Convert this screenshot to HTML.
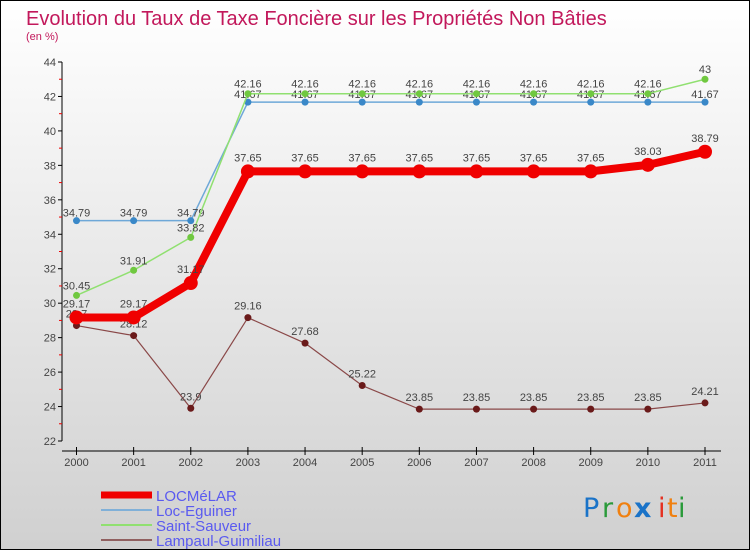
<!DOCTYPE html>
<html><head><meta charset="utf-8"><style>
html,body{margin:0;padding:0;}
body{width:750px;height:550px;overflow:hidden;font-family:"Liberation Sans",sans-serif;}
#wrap{position:relative;width:748px;height:548px;border:1px solid #000;background:linear-gradient(#fff,#d0d0d0);}
svg{position:absolute;left:0;top:0;}
</style></head><body>
<div id="wrap">
<svg id="chart" width="748" height="548">
<text x="25" y="24" font-size="20" fill="#c2185b">Evolution du Taux de Taxe Foncière sur les Propriétés Non Bâties</text>
<text x="25" y="39" font-size="11" fill="#c2185b">(en %)</text>
<g id="axes"></g><g id="series"></g><g id="legend"></g>
<g font-size="27" font-family="DejaVu Sans, sans-serif">
<text x="582" y="516" fill="#1a73c8">P</text><text x="601" y="516" fill="#2a9a3a">r</text><text x="615" y="516" fill="#f08010">o</text>
<text x="633" y="516" fill="#1a73c8" font-weight="bold">x</text><text x="657" y="516" fill="#e53020">i</text><text x="666" y="516" fill="#f08010">t</text><text x="677" y="516" fill="#2a9a3a">i</text>
</g>
</svg></div>
<script>
const years=[2000,2001,2002,2003,2004,2005,2006,2007,2008,2009,2010,2011];
const yTicks=[22,24,26,28,30,32,34,36,38,40,42,44];
const locmelar=[29.17,29.17,31.17,37.65,37.65,37.65,37.65,37.65,37.65,37.65,38.03,38.79];
const locEguiner=[34.79,34.79,34.79,41.67,41.67,41.67,41.67,41.67,41.67,41.67,41.67,41.67];
const saintSauveur=[30.45,31.91,33.82,42.16,42.16,42.16,42.16,42.16,42.16,42.16,42.16,43];
const lampaul=[28.7,28.12,23.9,29.16,27.68,25.22,23.85,23.85,23.85,23.85,23.85,24.21];
const seriesNames=["LOCMéLAR","Loc-Eguiner","Saint-Sauveur","Lampaul-Guimiliau"];

const NS="http://www.w3.org/2000/svg";
const x=i=>75.5+i*(704-75.5)/(years.length-1);
const y=v=>440-(v-22)*(440-61)/22;
function mk(tag,attrs,parent){const e=document.createElementNS(NS,tag);for(const k in attrs)e.setAttribute(k,attrs[k]);parent.appendChild(e);return e;}
const axes=document.getElementById('axes');
let e;
e=mk('line',{x1:61,y1:y(44),x2:61,y2:y(22),stroke:'#000','stroke-width':1},axes);


e=mk('line',{x1:61,y1:450,x2:720,y2:450,stroke:'#000','stroke-width':1},axes);


yTicks.forEach((t,i)=>{
  mk('line',{x1:57,x2:61,y1:y(t),y2:y(t),stroke:'#000'},axes);
  if(i<yTicks.length-1) mk('line',{x1:58,x2:61,y1:y(t+1),y2:y(t+1),stroke:'#e00'},axes);
  const tx=mk('text',{x:55,y:y(t)+4,'font-size':11,'text-anchor':'end',fill:'#444'},axes);
  tx.textContent=t;
  
  
});
years.forEach((yr,i)=>{
  mk('line',{x1:x(i),x2:x(i),y1:446,y2:454,stroke:'#000'},axes);
  const tx=mk('text',{x:x(i),y:465,'font-size':11,'text-anchor':'middle',fill:'#444'},axes);
  tx.textContent=yr;
  
  
});
const sg=document.getElementById('series');
function draw(data,color,w,r,dot,name,lblDy){
  const g=mk('g',{},sg);
  
  
  const pl=mk('polyline',{points:data.map((v,i)=>x(i)+','+y(v)).join(' '),fill:'none',stroke:color,'stroke-width':w,'stroke-linejoin':'round'},g);
  
  
  data.forEach((v,i)=>{
    const c=mk('circle',{cx:x(i),cy:y(v),r:r,fill:dot},g);
    
    
    const t=mk('text',{x:x(i),y:y(v)+lblDy,'font-size':11,'text-anchor':'middle',fill:'#444'},g);
    t.textContent=v;
    
    
  });
}
draw(locEguiner,'#6ea8d8',1.5,3.5,'#3a88c8','loc-eguiner-series',-4);
draw(saintSauveur,'#90e070',1.5,3.5,'#70c840','saint-sauveur-series',-6);
draw(lampaul,'#8a4848',1.2,3.5,'#6a1a1a','lampaul-series',-8);
draw(locmelar,'#f00000',8,7,'#f00000','locmelar-series',-10);

const lg=document.getElementById('legend');
const lcol=['#f00000','#80b0d8','#90e070','#906060'],lw=[7,2,2,2];
seriesNames.forEach((n,i)=>{
  const yy=494+i*15;
  const ln=mk('line',{x1:100,x2:151,y1:yy,y2:yy,stroke:lcol[i],'stroke-width':lw[i]},lg);
  
  
  const t=mk('text',{x:155,y:yy+6,'font-size':15,fill:'#5a5af0'},lg);
  t.textContent=n;
  
  
});
</script>
</body></html>
